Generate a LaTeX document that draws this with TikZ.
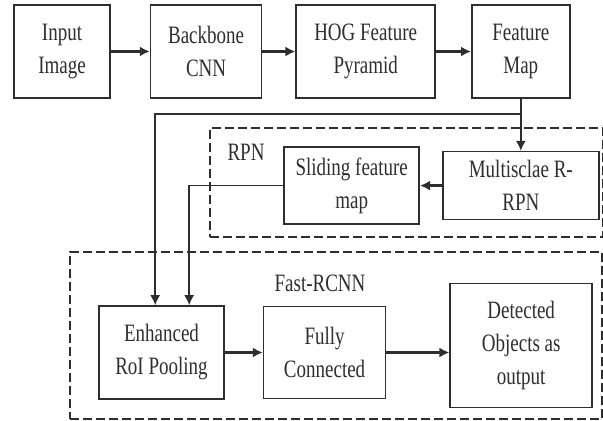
\documentclass[tikz,border=0pt]{standalone}
\usepackage{fontspec}
\setmainfont{Liberation Serif}[FakeStretch=0.76]
\usepackage{tikz}
\usetikzlibrary{
  arrows.meta,
  positioning,
  calc
}
\definecolor{InkGray}{HTML}{2E2E2E}
\tikzset{
  % Process box: size given per node
  blk/.style={
    rectangle, draw=InkGray, line width=0.8pt,
    align=center, inner sep=2pt,
    font=\fontsize{12.5pt}{16.5pt}\selectfont, text=InkGray
  },
  % Arrow
  arr/.style={
    -{Latex[length=5pt,width=5pt]},
    line width=#1, color=InkGray
  },
  arr/.default=1.1pt,
  % Dashed group outline
  grp/.style={
    rectangle, draw=InkGray, inner sep=0pt,
    dash pattern=on 4.5pt off 2pt, line width=0.85pt
  },
  % Group label
  lbl/.style={font=\fontsize{12.5pt}{16.5pt}\selectfont, text=InkGray}
}

\begin{document}
\begin{tikzpicture}
  \useasboundingbox (0,0) rectangle (301.5pt,-210.5pt);

  % Backbone chain
  \node[blk, minimum width=48pt, minimum height=46.5pt] (input) at (31pt,-25.75pt) {Input\\Image};
  \node[blk, minimum width=55.5pt, minimum height=46.5pt, right=19.5pt of input] (backbone) {Backbone\\CNN};
  \node[blk, minimum width=69.5pt, minimum height=46.5pt, right=16.5pt of backbone] (hog) {HOG Feature\\Pyramid};
  \node[blk, minimum width=49pt, minimum height=46.5pt, right=17.5pt of hog] (fmap) {Feature\\Map};

  % RPN
  \node[blk, minimum width=78pt, minimum height=34pt, below=26pt of fmap] (msrpn) {Multisclae R-\\RPN};
  \node[blk, minimum width=67.5pt, minimum height=38.5pt, left=11pt of msrpn] (sliding) {Sliding feature\\map};

  % Fast-RCNN
  \node[blk, minimum width=62.5pt, minimum height=46.5pt] (roi) at (80.75pt,-176.25pt) {Enhanced\\RoI Pooling};
  \node[blk, minimum width=61pt, minimum height=46pt, right=19pt of roi] (fc) {Fully\\Connected};
  \node[blk, minimum width=71pt, minimum height=62pt, right=31.5pt of fc, yshift=3.5pt] (det) {Detected\\Objects as\\output};

  % Groups
  \node[grp, minimum width=196.5pt, minimum height=54.5pt, anchor=north west] (rpngrp) at (104.5pt,-63.5pt) {};
  \node[grp, minimum width=266pt, minimum height=83.5pt, anchor=north west] (fastgrp) at (34.5pt,-125.5pt) {};
  \node[lbl] (rpnlbl) at (123pt,-76pt) {RPN};
  \node[lbl] (fastlbl) at (160pt,-141.5pt) {Fast-RCNN};

  % Flow
  \draw[arr] (input) -- (backbone);
  \draw[arr] (backbone) -- (hog);
  \draw[arr] (hog) -- (fmap);
  \draw[arr=0.8pt] (fmap) -- (msrpn);
  \coordinate (split) at ($(fmap.south)+(0,-7.5pt)$);
  \draw[arr=0.8pt] (split) -| ([xshift=28.5pt]roi.north west);
  \draw[arr] (msrpn) -- (sliding);
  \draw[arr=0.8pt] (sliding.west) -| ([xshift=45.5pt]roi.north west);
  \draw[arr] (roi) -- (fc);
  \draw[arr] (fc.east) -- (fc.east -| det.west);

\end{tikzpicture}
\end{document}
